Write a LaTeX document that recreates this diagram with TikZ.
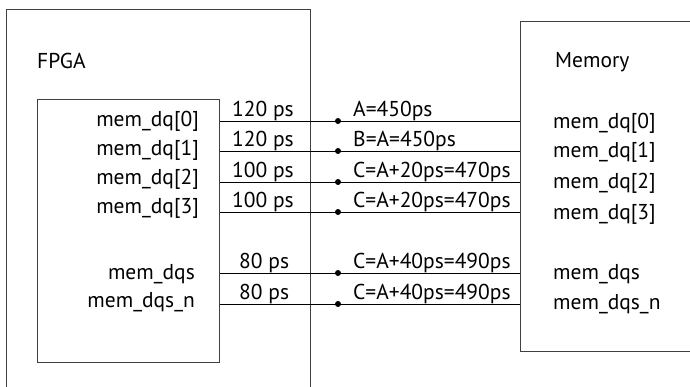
\documentclass[tikz,border=0pt]{standalone}
\usepackage{fontspec}
\setmainfont{PT Sans}
\usetikzlibrary{positioning}

\begin{document}
\begin{tikzpicture}[x=1pt,y=-1pt,font=\fontsize{21.5}{24}\selectfont]
\useasboundingbox (0,0) rectangle (690,386);
% frames
\node[draw=black!75, line width=0.8pt, anchor=north west, minimum width=304, minimum height=420, inner sep=0] (board) at (6,9) {};
\node[draw=black!75, line width=0.8pt, anchor=north west, minimum width=182, minimum height=263, inner sep=0] (fpga) at (37,99) {};
\node[draw=black!75, line width=0.8pt, anchor=north west, minimum width=220, minimum height=330, inner sep=0] (mem) at (520,21) {};
\node[anchor=west, inner sep=0] (fpgatitle) at (37,61) {FPGA};
\node[anchor=west, inner sep=0] (memtitle) at (555,62) {Memory};
% dots on the traces
\coordinate (d0) at (338,121);
\coordinate (d1) at (338,151);
\coordinate (d2) at (338,182);
\coordinate (d3) at (338,212);
\coordinate (d4) at (338,273);
\coordinate (d5) at (338,304);
\draw (fpga.east |- d0) -- (mem.west |- d0);
\draw (fpga.east |- d1) -- (mem.west |- d1);
\draw (fpga.east |- d2) -- (mem.west |- d2);
\draw (fpga.east |- d3) -- (mem.west |- d3);
\draw (fpga.east |- d4) -- (mem.west |- d4);
\draw (fpga.east |- d5) -- (mem.west |- d5);
\fill (d0) circle (3); \fill (d1) circle (3); \fill (d2) circle (3);
\fill (d3) circle (3); \fill (d4) circle (3); \fill (d5) circle (3);
% trace delays
\node[anchor=base west, inner sep=0] (t0) at (232,116) {120 ps};
\node[anchor=base west, inner sep=0] (t1) at (232,146) {120 ps};
\node[anchor=base west, inner sep=0] (t2) at (232,177) {100 ps};
\node[anchor=base west, inner sep=0] (t3) at (232,207) {100 ps};
\node[anchor=base west, inner sep=0] (t4) at (239,268) {80 ps};
\node[anchor=base west, inner sep=0] (t5) at (239,299) {80 ps};
\node[anchor=base west, inner sep=0] (c0) at (353,116) {A=450ps};
\node[anchor=base west, inner sep=0] (c1) at (353,146) {B=A=450ps};
\node[anchor=base west, inner sep=0] (c2) at (353,177) {C=A+20ps=470ps};
\node[anchor=base west, inner sep=0] (c3) at (353,207) {C=A+20ps=470ps};
\node[anchor=base west, inner sep=0] (c4) at (353,268) {C=A+40ps=490ps};
\node[anchor=base west, inner sep=0] (c5) at (353,299) {C=A+40ps=490ps};
% pins
\node[anchor=east, inner sep=0] (fq0) at (199,121) {mem\_dq[0]};
\node[anchor=east, inner sep=0] (fq1) at (199,150) {mem\_dq[1]};
\node[anchor=east, inner sep=0] (fq2) at (199,179) {mem\_dq[2]};
\node[anchor=east, inner sep=0] (fq3) at (199,208) {mem\_dq[3]};
\node[anchor=east, inner sep=0] (fqs) at (195,274) {mem\_dqs};
\node[anchor=east, inner sep=0] (fqsn) at (195,302) {mem\_dqs\_n};
\node[anchor=west, inner sep=0] (mq0) at (553,123) {mem\_dq[0]};
\node[anchor=west, inner sep=0] (mq1) at (553,152) {mem\_dq[1]};
\node[anchor=west, inner sep=0] (mq2) at (553,183) {mem\_dq[2]};
\node[anchor=west, inner sep=0] (mq3) at (553,214) {mem\_dq[3]};
\node[anchor=west, inner sep=0] (mqs) at (553,274) {mem\_dqs};
\node[anchor=west, inner sep=0] (mqsn) at (553,304) {mem\_dqs\_n};
\end{tikzpicture}
\end{document}
